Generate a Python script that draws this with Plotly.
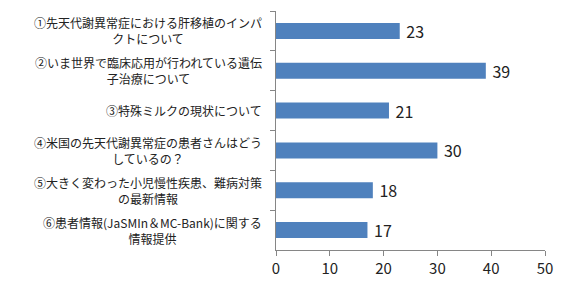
import plotly.graph_objects as go

categories = [
    "①先天代謝異常症における肝移植のインパ<br>クトについて",
    "②いま世界で臨床応用が行われている遺伝<br>子治療について",
    "③特殊ミルクの現状について",
    "④米国の先天代謝異常症の患者さんはどう<br>しているの？",
    "⑤大きく変わった小児慢性疾患、難病対策<br>の最新情報",
    "⑥患者情報(JaSMIn＆MC-Bank)に関する<br>情報提供",
]
values = [23, 39, 21, 30, 18, 17]
x_ticks = [0, 10, 20, 30, 40, 50]

FONT = "Noto Sans CJK JP"
keys = [str(i) for i in range(len(categories))]

fig = go.Figure(go.Bar(
    y=keys, x=values, orientation="h",
    marker=dict(color="#4F81BD", line=dict(width=0)),
    width=0.4,
    texttemplate=" %{x}", textposition="outside",
    constraintext="none",
    textfont=dict(family=FONT, size=16, color="#222222"),
    cliponaxis=False,
))

annotations = []
for k, c in zip(keys, categories):
    annotations.append(dict(
        x=0, xref="paper", xanchor="right", xshift=-12,
        y=k, yref="y", yanchor="middle",
        text=c, showarrow=False, align="center",
        font=dict(family=FONT, size=12, color="#222222"),
    ))

fig.update_layout(
    width=563, height=288,
    margin=dict(l=276, r=18, t=11, b=38),
    paper_bgcolor="white", plot_bgcolor="white",
    showlegend=False,
    annotations=annotations,
    xaxis=dict(
        range=[0, 50], tickvals=x_ticks, showgrid=False, zeroline=False,
        showline=True, linecolor="#868686", linewidth=1,
        ticks="outside", ticklen=5, tickcolor="#868686",
        tickfont=dict(family=FONT, size=15, color="#222222"),
    ),
    yaxis=dict(
        categoryorder="array", categoryarray=keys, autorange="reversed",
        showticklabels=False, showgrid=False, zeroline=False,
        showline=True, linecolor="#868686", linewidth=1,
        ticks="outside", ticklen=5, tickcolor="#868686", tickson="boundaries",
    ),
)

fig.write_html("out.html")
